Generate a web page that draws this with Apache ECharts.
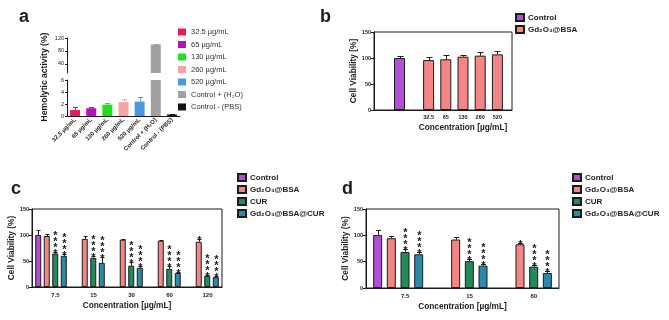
<!DOCTYPE html>
<html lang="en">
<head>
<meta charset="UTF-8">
<title>hemolysis and cell viability</title>
<script src="https://cdn.jsdelivr.net/npm/echarts@6/dist/echarts.min.js"></script>
<style>body{margin:0;background:#fff;}</style>
</head>
<body>
<div id="main" style="width:669px;height:320px;"></div>
<script>
// ---- a: hemolytic activity ----
let hemoNames = ['32.5 µg/mL', '65 µg/mL', '130 µg/mL', '260 µg/mL', '520 µg/mL', 'Control + (H₂O)', 'Control - (PBS)'];
let hemoMean = [1.0, 1.3, 1.9, 2.3, 2.4, 100, 0.25];
let hemoSd = [0.5, 0.2, 0.35, 0.55, 0.8, 1.5, 0.1];
let hemoColors = ['#e8196b', '#b412b8', '#1ee01e', '#f5a3a3', '#4a98e0', '#a0a0a0', '#111111'];
let hemoLowMax = 6;
let hemoHighMin = 12;
let hemoHighTicks = [40, 80, 120];

// ---- b: Gd2O3@BSA viability ----
let bNames = ['Control', 'Gd₂O₃@BSA'];
let bControl = [100];
let bControlSd = [4.5];
let bConc = ['32.5', '65', '130', '260', '520'];
let bGd = [96, 97.5, 102.5, 104.5, 107];
let bGdSd = [6, 8, 3, 6.5, 7];

// ---- c / d ----
let groupNames = ['Control', 'Gd₂O₃@BSA', 'CUR', 'Gd₂O₃@BSA@CUR'];
let groupColors = ['#b14fd8', '#f28585', '#248a5c', '#2a8aa8'];

let cConc = ['7.5', '15', '30', '60', '120'];
let cControl = [100, null, null, null, null];
let cGd = [98, 92.5, 91, 89, 87];
let cCur = [64.5, 56, 41, 35, 21.5];
let cGdCur = [60, 46.5, 37, 27, 19];
let cControlSd = [10, 0, 0, 0, 0];
let cGdSd = [3, 5, 1.5, 2, 5];
let cCurSd = [3, 3, 7.5, 5, 2.5];
let cGdCurSd = [3, 12, 3, 2, 2];
let cGdStars = [0, 0, 0, 0, 1];
let cCurStars = [4, 4, 4, 4, 4];
let cGdCurStars = [4, 4, 4, 4, 4];

let dConc = ['7.5', '15', '60'];
let dControl = [100.5, null, null];
let dGd = [94.5, 92, 83];
let dCur = [68.5, 51, 40.5];
let dGdCur = [64, 42.5, 28.5];
let dControlSd = [9.5, 0, 0];
let dGdSd = [5, 4, 3];
let dCurSd = [6, 5, 4];
let dGdCurSd = [4.5, 4, 3];
let dGdStars = [0, 0, 1];
let dCurStars = [4, 4, 4];
let dGdCurStars = [4, 4, 4];

let viaTicks = { min: 0, max: 150, interval: 50 };

let myChart = echarts.init(document.getElementById('main'));
let font = 'Liberation Sans, Arial, Helvetica, sans-serif';
let ink = '#1c1c1c';

// error bar (upper only) + significance stars, drawn through the axes
// item: [category, slot, mean, mean+sd, stars]
function errorSeries(xi, yi, items, nSlots, step, capW, colors) {
    return {
        type: 'custom', xAxisIndex: xi, yAxisIndex: yi, z: 5, silent: true,
        data: items,
        encode: { x: 0, y: 3 },
        renderItem: function (params, api) {
            let base = api.coord([api.value(0), api.value(2)]);
            let top = api.coord([api.value(0), api.value(3)]);
            let x = Math.round(base[0] + (api.value(1) - (nSlots - 1) / 2) * step) + 0.5;
            let yTop = Math.round(top[1]) + 0.5;
            let color = colors ? colors[api.value(1)] : ink;
            let kids = [
                { type: 'line', shape: { x1: x, y1: base[1], x2: x, y2: yTop }, style: { stroke: color, lineWidth: 1 } },
                { type: 'line', shape: { x1: x - capW / 2, y1: yTop, x2: x + capW / 2, y2: yTop }, style: { stroke: color, lineWidth: 1 } }
            ];
            for (let k = 0; k < api.value(4); k++) {
                kids.push({
                    type: 'text',
                    style: { text: '*', x: x, y: yTop + 1 - k * 6, align: 'center', verticalAlign: 'middle', fill: ink, font: 'bold 11px ' + font }
                });
            }
            return { type: 'group', children: kids };
        }
    };
}

function buildItems(means, sds, stars) {
    let out = [];
    means.forEach(function (m, s) {
        m.forEach(function (v, i) {
            if (v == null) return;
            out.push([i, s, v, v + sds[s][i], stars[s] ? stars[s][i] : 0]);
        });
    });
    return out;
}

let axisText = { color: ink, fontFamily: font };
let nameStyle = { color: ink, fontFamily: font, fontWeight: 'bold', fontSize: 8.3 };

function viaY(grid, name, gap) {
    return {
        gridIndex: grid, type: 'value', min: viaTicks.min, max: viaTicks.max, interval: viaTicks.interval,
        axisLine: { show: true, lineStyle: { color: ink } },
        axisTick: { show: true, length: 3, lineStyle: { color: ink } },
        axisLabel: Object.assign({ fontSize: 5.5, fontWeight: 'bold', margin: 3 }, axisText),
        splitLine: { show: false },
        name: name, nameLocation: 'middle', nameRotate: 90, nameGap: gap, nameTextStyle: nameStyle
    };
}
function hiddenY(grid) {
    return { gridIndex: grid, type: 'value', min: viaTicks.min, max: viaTicks.max, show: false, splitLine: { show: false } };
}

// a: lower segment has every bar, upper segment only the ones that pass the break
let hemoSeries = [];
hemoNames.forEach(function (n, i) {
    let own = hemoMean.map(function (v, j) { return j === i ? v : null; });
    hemoSeries.push({
        type: 'bar', name: n, xAxisIndex: 1, yAxisIndex: 1, barWidth: 10, barGap: '-100%',
        itemStyle: { color: hemoColors[i] }, data: own
    });
    if (hemoMean[i] > hemoLowMax) {
        hemoSeries.push({
            type: 'bar', name: n, xAxisIndex: 0, yAxisIndex: 0, barWidth: 10, barGap: '-100%',
            itemStyle: { color: hemoColors[i] }, data: own
        });
    }
});
let hemoLowItems = [], hemoHighItems = [];
hemoMean.forEach(function (v, i) {
    let it = [i, i, v, v + hemoSd[i], 0];
    if (v + hemoSd[i] <= hemoLowMax) hemoLowItems.push(it);
    else hemoHighItems.push(it);
});

function groupBars(xi, yi, arrays, width, gap) {
    return arrays.map(function (arr, s) {
        return {
            type: 'bar', name: groupNames[s], xAxisIndex: xi, yAxisIndex: yi,
            barWidth: width, barGap: gap,
            itemStyle: { color: groupColors[s], borderColor: ink, borderWidth: 1 },
            data: arr
        };
    });
}

let legendBase = {
    orient: 'vertical', icon: 'rect', itemWidth: 8, itemHeight: 7, itemGap: 3, padding: 0,
    selectedMode: false,
    textStyle: { fontSize: 8, fontWeight: 'bold', color: ink, fontFamily: font, padding: [0, 0, 0, -1] }
};

let option = {
    animation: false,
    backgroundColor: '#fff',
    textStyle: { fontFamily: font },
    grid: [
        { left: 67, top: 38, width: 113, height: 35 },   // a upper
        { left: 67, top: 80, width: 113, height: 36 },   // a lower
        { left: 374, top: 32, width: 138, height: 78, show: true, borderColor: ink, borderWidth: 1 }, // b frame
        { left: 390, top: 32, width: 19, height: 78 },   // b control
        { left: 420, top: 32, width: 86, height: 78 },   // b Gd2O3@BSA
        { left: 32, top: 209, width: 190, height: 78, show: true, borderColor: ink, borderWidth: 1 }, // c
        { left: 366, top: 209, width: 193, height: 79, show: true, borderColor: ink, borderWidth: 1 }, // d
        { left: 67, top: 38, width: 113, height: 78 }    // a axis title
    ],
    xAxis: [
        { gridIndex: 0, type: 'category', data: hemoNames, show: false },
        {
            gridIndex: 1, type: 'category', data: hemoNames,
            axisLine: { lineStyle: { color: ink } }, axisTick: { show: false },
            axisLabel: Object.assign({ rotate: 45, fontSize: 6, fontWeight: 'bold', margin: 3, interval: 0 }, axisText)
        },
        { gridIndex: 2, type: 'category', data: [''], axisLine: { lineStyle: { color: ink } }, axisTick: { show: false }, axisLabel: { show: false } },
        { gridIndex: 3, type: 'category', data: ['Control'], show: false },
        {
            gridIndex: 4, type: 'category', data: bConc,
            axisLine: { show: false }, axisTick: { show: false },
            axisLabel: Object.assign({ fontSize: 5.5, fontWeight: 'bold', margin: 4 }, axisText),
            name: 'Concentration [µg/mL]', nameLocation: 'middle', nameGap: 14, nameTextStyle: nameStyle
        },
        {
            gridIndex: 5, type: 'category', data: cConc,
            axisLine: { lineStyle: { color: ink } }, axisTick: { show: false },
            axisLabel: Object.assign({ fontSize: 6, fontWeight: 'bold', margin: 5, padding: [0, 0, 0, 9] }, axisText),
            name: 'Concentration [µg/mL]', nameLocation: 'middle', nameGap: 15, nameTextStyle: nameStyle
        },
        {
            gridIndex: 6, type: 'category', data: dConc,
            axisLine: { lineStyle: { color: ink } }, axisTick: { show: false },
            axisLabel: Object.assign({ fontSize: 6, fontWeight: 'bold', margin: 5, padding: [0, 0, 0, 14] }, axisText),
            name: 'Concentration [µg/mL]', nameLocation: 'middle', nameGap: 15, nameTextStyle: nameStyle
        },
        { gridIndex: 7, type: 'category', data: [''], show: false }
    ],
    yAxis: [
        {
            gridIndex: 0, type: 'value', min: hemoHighMin, max: 120,
            axisLine: { show: true, lineStyle: { color: ink } },
            axisTick: { show: true, length: 2, customValues: hemoHighTicks, lineStyle: { color: ink } },
            axisLabel: Object.assign({ fontSize: 5.5, margin: 3, customValues: hemoHighTicks }, axisText),
            splitLine: { show: false }
        },
        {
            gridIndex: 1, type: 'value', min: 0, max: hemoLowMax, interval: 2,
            axisLine: { show: true, lineStyle: { color: ink } },
            axisTick: { show: true, length: 2, lineStyle: { color: ink } },
            axisLabel: Object.assign({ fontSize: 5.5, margin: 3 }, axisText),
            splitLine: { show: false }
        },
        viaY(2, 'Cell Viability [%]', 14),
        hiddenY(3),
        hiddenY(4),
        viaY(5, 'Cell Viability (%)', 15),
        viaY(6, 'Cell Viability (%)', 16),
        {
            gridIndex: 7, type: 'value', min: 0, max: 1,
            axisLine: { show: false }, axisTick: { show: false }, axisLabel: { show: false }, splitLine: { show: false },
            name: 'Hemolytic activity (%)', nameLocation: 'middle', nameRotate: 90, nameGap: 18,
            nameTextStyle: { color: ink, fontFamily: font, fontWeight: 'bold', fontSize: 8.6 }
        }
    ],
    legend: [
        Object.assign({}, legendBase, {
            left: 178, top: 28, data: hemoNames, itemGap: 4.5,
            textStyle: { fontSize: 7.5, color: '#333', fontFamily: font }
        }),
        Object.assign({}, legendBase, { left: 515, top: 13, data: bNames }),
        Object.assign({}, legendBase, { left: 237, top: 173, data: groupNames }),
        Object.assign({}, legendBase, { left: 572, top: 173, data: groupNames })
    ],
    graphic: [
        { type: 'text', left: 19, top: 8, style: { text: 'a', font: 'bold 18px ' + font, fill: ink } },
        { type: 'text', left: 320, top: 8, style: { text: 'b', font: 'bold 18px ' + font, fill: ink } },
        { type: 'text', left: 11, top: 180, style: { text: 'c', font: 'bold 18px ' + font, fill: ink } },
        { type: 'text', left: 342, top: 180, style: { text: 'd', font: 'bold 18px ' + font, fill: ink } }
    ],
    series: []
};

// a (slot = category index, so the colour lookup picks the bar's colour)
option.series = option.series.concat(hemoSeries);
option.series.push(errorSeries(1, 1, hemoLowItems, 1, 0, 5, hemoColors));
option.series.push(errorSeries(0, 0, hemoHighItems, 1, 0, 5, hemoColors));

// b
option.series.push({
    type: 'bar', name: bNames[0], xAxisIndex: 3, yAxisIndex: 3, barWidth: 11,
    itemStyle: { color: groupColors[0], borderColor: ink, borderWidth: 1 }, data: bControl
});
option.series.push({
    type: 'bar', name: bNames[1], xAxisIndex: 4, yAxisIndex: 4, barWidth: 11,
    itemStyle: { color: groupColors[1], borderColor: ink, borderWidth: 1 }, data: bGd
});
option.series.push(errorSeries(3, 3, buildItems([bControl], [bControlSd], []), 1, 0, 6, null));
option.series.push(errorSeries(4, 4, buildItems([bGd], [bGdSd], []), 1, 0, 6, null));

// c
option.series = option.series.concat(groupBars(5, 5, [cControl, cGd, cCur, cGdCur], 6, '42%'));
option.series.push(errorSeries(5, 5,
    buildItems([cControl, cGd, cCur, cGdCur], [cControlSd, cGdSd, cCurSd, cGdCurSd], [null, cGdStars, cCurStars, cGdCurStars]),
    4, 8.5, 4, null));

// d
option.series = option.series.concat(groupBars(6, 6, [dControl, dGd, dCur, dGdCur], 9, '52%'));
option.series.push(errorSeries(6, 6,
    buildItems([dControl, dGd, dCur, dGdCur], [dControlSd, dGdSd, dCurSd, dGdCurSd], [null, dGdStars, dCurStars, dGdCurStars]),
    4, 13.7, 5, null));

myChart.setOption(option);
</script>
</body>
</html>
